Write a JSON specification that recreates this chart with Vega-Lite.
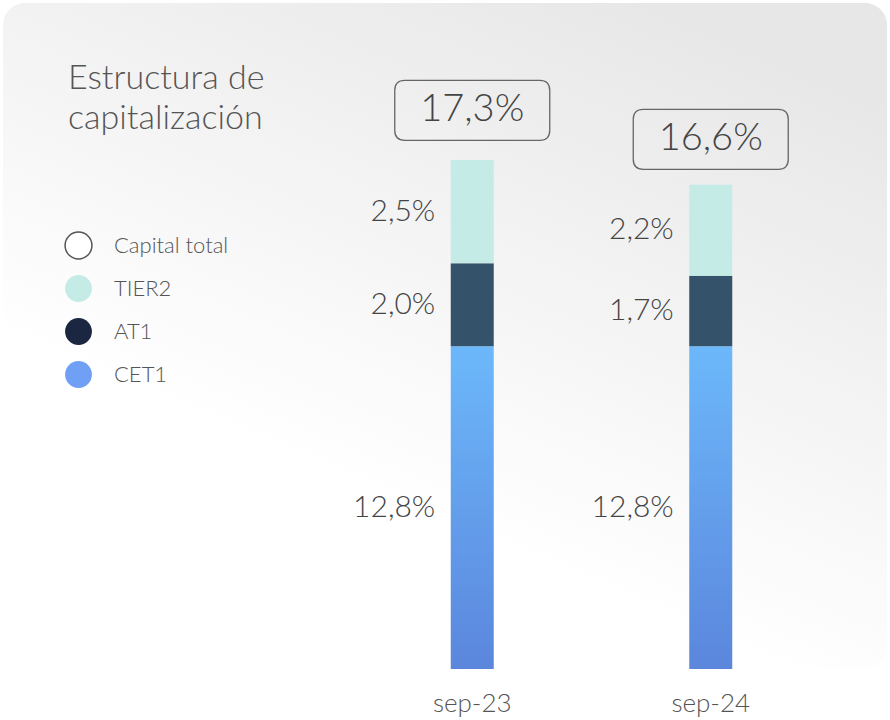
{
  "$schema": "https://vega.github.io/schema/vega-lite/v6.json",
  "width": 884,
  "height": 666,
  "autosize": {"type": "none"},
  "padding": {"left": 3, "top": 3, "right": 3, "bottom": 51},
  "background": "#ffffff",
  "title": {
    "text": ["Estructura de", "capitalización"],
    "anchor": "start",
    "frame": "group",
    "orient": "top",
    "baseline": "top",
    "offset": 0,
    "dx": 65,
    "dy": 133,
    "font": "Lato",
    "fontSize": 34,
    "fontWeight": 300,
    "color": "#555555",
    "lineHeight": 40
  },
  "data": {
    "values": [
      {"period": "sep-23", "component": "CET1", "value": 12.8},
      {"period": "sep-23", "component": "AT1", "value": 2.0},
      {"period": "sep-23", "component": "TIER2", "value": 2.5},
      {"period": "sep-23", "component": "Capital total", "value": 17.3},
      {"period": "sep-24", "component": "CET1", "value": 12.8},
      {"period": "sep-24", "component": "AT1", "value": 1.7},
      {"period": "sep-24", "component": "TIER2", "value": 2.2},
      {"period": "sep-24", "component": "Capital total", "value": 16.6}
    ]
  },
  "transform": [
    {"calculate": "replace(format(datum.value, '.1f'), '.', ',') + '%'", "as": "label"}
  ],
  "encoding": {
    "x": {
      "field": "period",
      "type": "nominal",
      "scale": {"domain": ["sep-23", "sep-24"], "range": [350, 827], "paddingInner": 0, "paddingOuter": 0},
      "axis": {
        "title": null,
        "domain": false,
        "ticks": false,
        "grid": false,
        "labelAngle": 0,
        "labelFont": "Lato",
        "labelFontSize": 26,
        "labelFontWeight": 300,
        "labelColor": "#555555",
        "labelPadding": 21
      }
    }
  },
  "layer": [
    {
      "mark": {"type": "point", "filled": true, "opacity": 0},
      "encoding": {
        "color": {
          "field": "component",
          "type": "nominal",
          "scale": {
            "domain": ["Capital total", "TIER2", "AT1", "CET1"],
            "range": ["#ffffff", "#c5ebe6", "#1b2640", "#6fa0f5"]
          },
          "legend": {
            "title": null,
            "orient": "none",
            "legendX": 61,
            "legendY": 228,
            "padding": 0,
            "symbolType": "circle",
            "symbolSize": 720,
            "symbolOpacity": 1,
            "symbolStrokeWidth": 1.5,
            "rowPadding": 10,
            "labelOffset": 21,
            "labelFont": "Lato",
            "labelFontSize": 22,
            "labelFontWeight": 300,
            "labelColor": "#555555",
            "encode": {
              "symbols": {
                "update": {
                  "stroke": {"signal": "datum.value === 'Capital total' ? '#555555' : 'transparent'"},
                  "strokeWidth": {"value": 1.5},
                  "opacity": {"value": 1}
                }
              }
            }
          }
        }
      }
    },
    {
      "transform": [
        {"filter": "datum.component !== 'Capital total'"},
        {"calculate": "indexof(['CET1','AT1','TIER2'], datum.component)", "as": "ord"},
        {"stack": "value", "groupby": ["period"], "sort": [{"field": "ord", "order": "ascending"}], "as": ["y0", "y1"]},
        {"filter": "datum.component === 'CET1'"}
      ],
      "mark": {
        "type": "bar",
        "width": 43,
        "clip": true,
        "color": {
          "gradient": "linear",
          "x1": 0, "y1": 0, "x2": 0, "y2": 1,
          "stops": [
            {"offset": 0, "color": "#6cb8fb"},
            {"offset": 0.61, "color": "#5b86dc"},
            {"offset": 1, "color": "#5b86dc"}
          ]
        }
      },
      "encoding": {
        "y": {"field": "y1", "type": "quantitative", "scale": {"domain": [5, 21.09], "zero": false, "nice": false}, "axis": null},
        "y2": {"field": "y0"}
      }
    },
    {
      "transform": [
        {"filter": "datum.component !== 'Capital total'"},
        {"calculate": "indexof(['CET1','AT1','TIER2'], datum.component)", "as": "ord"},
        {"stack": "value", "groupby": ["period"], "sort": [{"field": "ord", "order": "ascending"}], "as": ["y0", "y1"]},
        {"filter": "datum.component !== 'CET1'"}
      ],
      "mark": {"type": "bar", "width": 43, "clip": true},
      "encoding": {
        "y": {"field": "y1", "type": "quantitative", "scale": {"domain": [5, 21.09], "zero": false, "nice": false}, "axis": null},
        "y2": {"field": "y0"},
        "fill": {
          "field": "component",
          "type": "nominal",
          "scale": {"domain": ["AT1", "TIER2"], "range": ["#34536b", "#c5ebe6"]},
          "legend": null
        }
      }
    },
    {
      "transform": [
        {"filter": "datum.component !== 'Capital total'"},
        {"calculate": "indexof(['CET1','AT1','TIER2'], datum.component)", "as": "ord"},
        {"stack": "value", "groupby": ["period"], "sort": [{"field": "ord", "order": "ascending"}], "as": ["y0", "y1"]},
        {"calculate": "(max(datum.y0, 5) + datum.y1) / 2", "as": "mid"}
      ],
      "mark": {
        "type": "text",
        "align": "right",
        "baseline": "middle",
        "dx": -37,
        "font": "Lato",
        "fontSize": 30,
        "fontWeight": 300,
        "color": "#444444"
      },
      "encoding": {
        "y": {"field": "mid", "type": "quantitative", "scale": {"domain": [5, 21.09], "zero": false, "nice": false}, "axis": null},
        "text": {"field": "label", "type": "nominal"}
      }
    },
    {
      "transform": [{"filter": "datum.component === 'Capital total'"}],
      "mark": {
        "type": "point",
        "shape": "M-0.871,-0.387L0.871,-0.387Q1,-0.387 1,-0.258L1,0.258Q1,0.387 0.871,0.387L-0.871,0.387Q-1,0.387 -1,0.258L-1,-0.258Q-1,-0.387 -0.871,-0.387Z",
        "size": 24025,
        "filled": false,
        "stroke": "#666666",
        "strokeWidth": 1.3,
        "opacity": 1,
        "yOffset": -49.5
      },
      "encoding": {
        "y": {"field": "value", "type": "quantitative", "scale": {"domain": [5, 21.09], "zero": false, "nice": false}, "axis": null}
      }
    },
    {
      "transform": [{"filter": "datum.component === 'Capital total'"}],
      "mark": {
        "type": "text",
        "align": "center",
        "baseline": "middle",
        "yOffset": -49.5,
        "font": "Lato Light, Lato",
        "fontSize": 38,
        "fontWeight": 300,
        "color": "#444444"
      },
      "encoding": {
        "y": {"field": "value", "type": "quantitative", "scale": {"domain": [5, 21.09], "zero": false, "nice": false}, "axis": null},
        "text": {"field": "label", "type": "nominal"}
      }
    }
  ],
  "config": {
    "view": {
      "stroke": null,
      "cornerRadius": 22,
      "fill": {
        "gradient": "linear",
        "x1": 0.75, "y1": 0, "x2": 0.35, "y2": 0.7,
        "stops": [
          {"offset": 0, "color": "#e7e7e8"},
          {"offset": 1, "color": "#ffffff"}
        ]
      }
    }
  }
}
